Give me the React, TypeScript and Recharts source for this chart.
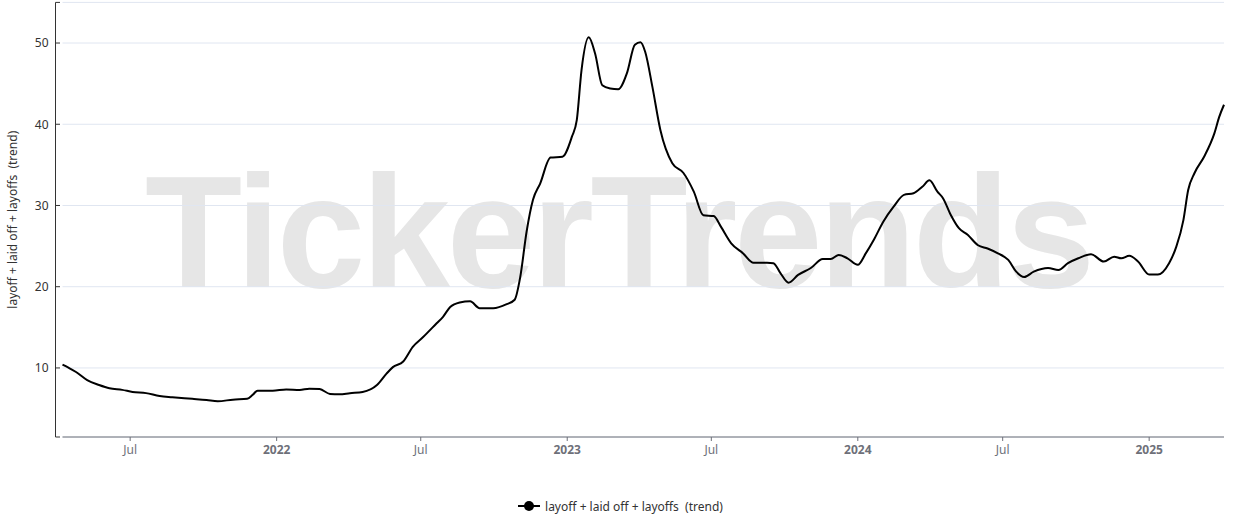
import React from 'react';
import { LineChart, Line, XAxis, YAxis, CartesianGrid, Legend } from 'recharts';

const seriesName = 'layoff + laid off + layoffs  (trend)';
// the axis label goes through recharts' Text, which folds plain spaces
const axisLabel = 'layoff + laid off + layoffs \u00a0(trend)';

const dates = [
  '2021-04-07', '2021-04-15', '2021-04-24', '2021-05-08', '2021-05-23', '2021-06-05', '2021-06-21',
  '2021-07-04', '2021-07-21', '2021-08-07', '2021-08-23', '2021-09-17', '2021-10-05', '2021-10-19',
  '2021-11-07', '2021-11-25', '2021-12-02', '2021-12-08', '2021-12-27', '2022-01-13', '2022-01-30',
  '2022-02-11', '2022-02-24', '2022-03-09', '2022-03-21', '2022-04-03', '2022-04-19', '2022-05-07',
  '2022-05-19', '2022-05-27', '2022-06-09', '2022-06-21', '2022-07-04', '2022-07-21', '2022-07-29',
  '2022-08-07', '2022-08-19', '2022-09-01', '2022-09-13', '2022-09-30', '2022-10-17', '2022-10-27',
  '2022-11-03', '2022-11-11', '2022-11-19', '2022-11-28', '2022-12-11', '2022-12-26', '2023-01-07',
  '2023-01-13', '2023-01-19', '2023-01-28', '2023-02-05', '2023-02-14', '2023-02-24', '2023-03-06',
  '2023-03-17', '2023-03-27', '2023-04-03', '2023-04-09', '2023-04-18', '2023-04-28', '2023-05-13',
  '2023-05-27', '2023-06-09', '2023-06-21', '2023-07-04', '2023-07-13', '2023-07-26', '2023-08-10',
  '2023-08-23', '2023-09-09', '2023-09-17', '2023-09-26', '2023-10-06', '2023-10-18', '2023-11-03',
  '2023-11-18', '2023-11-28', '2023-12-08', '2023-12-19', '2024-01-01', '2024-01-11', '2024-01-21',
  '2024-02-02', '2024-02-15', '2024-02-28', '2024-03-11', '2024-03-22', '2024-03-31', '2024-04-10',
  '2024-04-17', '2024-04-27', '2024-05-07', '2024-05-18', '2024-05-31', '2024-06-12', '2024-06-25',
  '2024-07-08', '2024-07-18', '2024-07-28', '2024-08-09', '2024-08-27', '2024-09-09', '2024-09-21',
  '2024-10-04', '2024-10-20', '2024-11-05', '2024-11-18', '2024-11-27', '2024-12-07', '2024-12-18',
  '2025-01-01', '2025-01-12', '2025-01-26', '2025-02-04', '2025-02-13', '2025-02-19', '2025-02-27',
  '2025-03-11', '2025-03-24', '2025-03-30', '2025-04-05',
];

const values = [
  10.4, 10.0, 9.5, 8.5, 7.9, 7.5, 7.3,
  7.05, 6.9, 6.55, 6.4, 6.2, 6.05, 5.9,
  6.1, 6.2, 6.7, 7.2, 7.2, 7.35, 7.3,
  7.45, 7.4, 6.8, 6.75, 6.9, 7.05, 7.9,
  9.3, 10.1, 10.8, 12.6, 13.8, 15.5, 16.3,
  17.5, 18.05, 18.2, 17.35, 17.35, 17.85, 18.4,
  21.2, 26.8, 30.7, 32.7, 35.9, 36.0, 38.5,
  40.5, 46.7, 50.7, 48.7, 44.8, 44.4, 44.3,
  46.3, 49.8, 50.1, 48.9, 44.6, 39.3, 35.2,
  34.0, 31.7, 28.8, 28.7, 27.4, 25.35, 24.1,
  22.95, 22.95, 22.9, 21.65, 20.5, 21.45, 22.3,
  23.4, 23.4, 23.9, 23.5, 22.7, 24.1, 25.75,
  28.0, 29.85, 31.3, 31.5, 32.3, 33.1, 31.7,
  30.9, 28.8, 27.2, 26.4, 25.1, 24.7, 24.1,
  23.3, 21.85, 21.2, 21.85, 22.3, 22.05, 22.9,
  23.5, 24.0, 23.1, 23.7, 23.5, 23.8, 23.1,
  21.5, 21.5, 22.9, 24.9, 28.2, 31.9, 34.0,
  36.0, 38.9, 40.9, 42.4,
];

const xTickDates = [
  '2021-07-01', '2022-01-01', '2022-07-01', '2023-01-01',
  '2023-07-01', '2024-01-01', '2024-07-01', '2025-01-01',
];

const yTicks = [1.5, 10, 20, 30, 40, 50, 55];
const yDomain = [1.5, 55];

const data = dates.map((d, i) => ({ t: Date.parse(d), v: values[i] }));
const xTicks = xTickDates.map((d) => Date.parse(d));

const font = "'Noto Sans', sans-serif";

function XTick(props: any) {
  const { x, y, payload } = props;
  const d = new Date(payload.value);
  const isYear = d.getUTCMonth() === 0;
  return (
    <text
      x={x}
      y={y}
      dy="0.71em"
      textAnchor="middle"
      fontFamily={font}
      fontSize={12}
      fontWeight={isYear ? 'bold' : 'normal'}
      fill="#6e7079"
    >
      {isYear ? d.getUTCFullYear() : 'Jul'}
    </text>
  );
}

function YTick(props: any) {
  const { x, y, payload } = props;
  const v = payload.value;
  const show = v % 10 === 0;
  return (
    <g>
      <line x1={x + 7} x2={x + 11.5} y1={y} y2={y} stroke="#333" />
      {show && (
        <text x={x} y={y} dy="0.355em" textAnchor="end" fontFamily={font} fontSize={12} fill="#333">
          {v}
        </text>
      )}
    </g>
  );
}

function LegendContent() {
  return (
    <div
      style={{
        height: 20,
        display: 'flex',
        alignItems: 'center',
        justifyContent: 'center',
        paddingLeft: 4,
        fontFamily: font,
        fontSize: 12,
        color: '#333',
      }}
    >
      <svg width={22} height={12}>
        <line x1={0} x2={22} y1={6} y2={6} stroke="#000" strokeWidth={2} />
        <circle cx={11} cy={6} r={5} fill="#000" />
      </svg>
      <span style={{ marginLeft: 5, whiteSpace: 'pre' }}>{seriesName}</span>
    </div>
  );
}

export default function App() {
  return (
    <div style={{ position: 'absolute', left: 0, top: 0, width: 1237, height: 516, background: '#fff' }}>
      {/* watermark */}
      <svg width={1237} height={516} style={{ position: 'absolute', left: 0, top: 0 }}>
        <text
          x={145}
          y={287}
          fontFamily="'Liberation Sans', Arial, sans-serif"
          fontWeight="bold"
          fontSize={159}
          fill="#e6e6e6"
          textLength={950}
          lengthAdjust="spacing"
        >
          TickerTrends
        </text>
      </svg>
      <div style={{ position: 'absolute', left: 0, top: 0 }}>
        <LineChart width={1237} height={516} data={data} margin={{ top: 2.4, right: 13, bottom: 0, left: 0 }}>
          <CartesianGrid yAxisId="y" vertical={false} stroke="#e0e6f1" />
          <XAxis
            dataKey="t"
            type="number"
            domain={['dataMin', 'dataMax']}
            ticks={xTicks}
            tick={<XTick />}
            height={59}
            tickSize={4}
            tickMargin={4}
            axisLine={{ stroke: '#6e7079' }}
            tickLine={{ stroke: '#6e7079' }}
          />
          <YAxis
            yAxisId="pad"
            type="number"
            domain={yDomain}
            width={7}
            tick={false}
            axisLine={false}
            tickLine={false}
            allowDataOverflow
          />
          <YAxis
            yAxisId="y"
            type="number"
            domain={yDomain}
            ticks={yTicks}
            interval={0}
            width={55.5}
            tick={<YTick />}
            tickSize={0}
            tickMargin={7}
            tickLine={false}
            axisLine={{ stroke: '#333' }}
            allowDataOverflow
            label={{
              value: axisLabel,
              angle: -90,
              position: 'insideLeft',
              offset: 13,
              style: { textAnchor: 'middle', fontFamily: font, fontSize: 12, fill: '#333' },
            }}
          />
          <Legend
            verticalAlign="bottom"
            content={<LegendContent />}
            wrapperStyle={{ left: 0, width: 1237 }}
          />
          <Line
            yAxisId="y"
            dataKey="v"
            type="monotone"
            stroke="#000"
            strokeWidth={2}
            dot={false}
            isAnimationActive={false}
          />
        </LineChart>
      </div>
    </div>
  );
}
